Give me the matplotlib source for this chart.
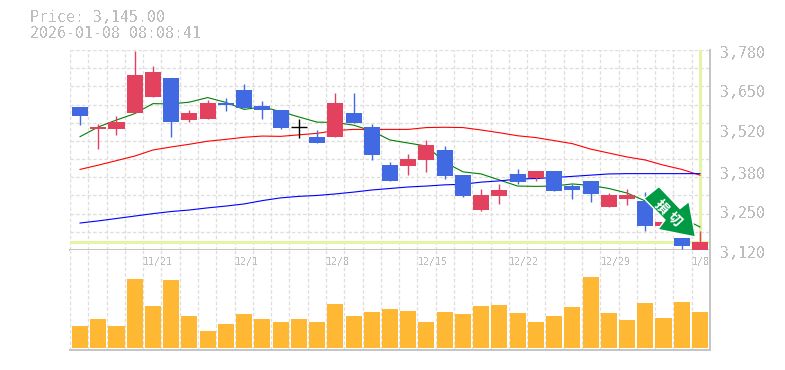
import matplotlib
matplotlib.use("Agg")
import matplotlib.pyplot as plt
from matplotlib.patches import Polygon

W, H = 785, 370

#candles, oldest first
opens = [3592,3519,3519,3572,3625,3688,3549,3552,3605,3648,3595,3582,3525,3493,3493,3572,3526,3400,3397,3417,
         3450,3367,3252,3298,3371,3358,3381,3331,3348,3262,3288,3282,3199,3160,3117]
closes = [3562,3526,3542,3697,3707,3542,3572,3605,3598,3589,3582,3523,3525,3473,3605,3539,3433,3348,3420,3466,
          3364,3298,3301,3318,3344,3381,3315,3318,3305,3301,3301,3199,3212,3133,3145]
highs = [3592,3536,3562,3777,3727,3688,3582,3615,3622,3668,3612,3582,3552,3516,3638,3638,3536,3410,3437,3483,
         3463,3367,3321,3338,3387,3381,3381,3338,3348,3308,3321,3311,3212,3160,3183]
lows = [3532,3453,3499,3572,3625,3493,3542,3552,3579,3589,3552,3519,3490,3473,3493,3539,3417,3348,3367,3377,
        3354,3295,3249,3272,3338,3348,3315,3288,3278,3262,3268,3183,3199,3123,3117]
volumes = [22,29,22,69,42,68,32,17,24,34,29,26,29,26,44,32,36,39,
           37,26,36,34,42,43,35,26,32,41,71,35,28,45,30,46,36]

ma_short = [3494,3526,3549,3570,3603,3602,3608,3623,3607,3584,3592,3577,3559,3542,3541,3532,3513,3483,3473,3463,
            3410,3378,3371,3351,3331,3330,3331,3338,3333,3323,3308,3282,3252,3226,3196]
ma_mid = [3386,3400,3415,3430,3450,3460,3469,3479,3485,3492,3496,3495,3500,3505,3514,3518,3518,3518,3518,3524,
          3525,3524,3516,3507,3497,3491,3481,3471,3453,3440,3427,3417,3400,3386,3367]
ma_long = [3209,3216,3224,3232,3240,3247,3252,3259,3265,3272,3283,3292,3297,3300,3305,3311,3318,3323,3328,3331,
           3335,3337,3344,3348,3354,3356,3359,3363,3367,3371,3372,3372,3372,3372,3372]

price_ticks = [3780,3650,3520,3380,3250,3120]
date_labels = ["11/21","12/1","12/8","12/15","12/22","12/29","1/8"]
date_slots = [4,9,14,19,24,29,34]
last_price = 3145
title_lines = ["Price: 3,145.00","2026-01-08 08:08:41"]

UP = "#e3425f"
DOWN = "#4169e1"
GRID = "#dedede"
TXT = "#bdbdbd"
MARK = "#e3f5a5"
MONO = "DejaVu Sans Mono"

plt.rcParams["text.antialiased"] = False

def box(top, bottom):
   return [70/W, 1-bottom/H, 640/W, (bottom-top)/H]

fig = plt.figure(figsize=(W/100, H/100), dpi=100)
ax = fig.add_axes(box(50, 250))
axv = fig.add_axes(box(250, 350))

x = list(range(len(closes)))
xlim = (-0.55, 34.55)
slots = [xlim[0] + i*(xlim[1]-xlim[0])/35 for i in range(35)]
dash = (0, (2.6, 1.7))

for a in (ax, axv):
   a.set_xlim(xlim)
   a.set_xticks(slots)
   a.tick_params(length=0, labelbottom=False, labelleft=False, labelright=False)
   a.grid(axis="x", color=GRID, lw=0.95, linestyle=dash)
   a.set_axisbelow(True)
   for s in a.spines.values():
      s.set_visible(False)
   a.spines["right"].set_visible(True)
   a.spines["bottom"].set_visible(True)
   a.spines["right"].set_color("#c4c4c4")
   a.spines["bottom"].set_color("#c4c4c4")
   a.spines["right"].set_linewidth(1.4)
   a.spines["bottom"].set_linewidth(1.4)

ax.set_ylim(3120, 3780)
ax.set_yticks(list(range(3180, 3781, 60)))
ax.grid(axis="y", color=GRID, lw=0.95, linestyle=dash)

ax.axhline(last_price, color=MARK, lw=2.2, zorder=1)
ax.axvline(x[-1], color=MARK, lw=2.2, zorder=1)

ax.plot(x, ma_short, color="#008000", lw=0.8, zorder=2)
ax.plot(x, ma_mid, color="#ff0000", lw=0.8, zorder=2)
ax.plot(x, ma_long, color="#0000ff", lw=0.8, zorder=2)

for i, (o, c, hi, lo) in enumerate(zip(opens, closes, highs, lows)):
   if c == o:
      col = "black"
   elif c > o:
      col = UP
   else:
      col = DOWN
   ax.vlines(i, lo, hi, color=col, lw=1.0, zorder=3, clip_on=False)
   if c == o:
      ax.hlines(c, i-0.44, i+0.44, color=col, lw=1.0, zorder=3)
   else:
      ax.bar(i, abs(c-o), bottom=min(o, c), width=0.878, color=col, lw=0, zorder=3, clip_on=False)

axv.bar(x, volumes, width=0.878, color="#ffb833", lw=0, zorder=3)
axv.set_ylim(-2, 98)
axv.set_yticks([])

for val in price_ticks:
   ax.annotate(f"{val:,}", xy=(1, val), xycoords=ax.get_yaxis_transform(),
               xytext=(7.2, -2.4), textcoords="offset points",
               ha="left", va="center", color=TXT, fontsize=10.7, family=MONO)

for lab, slot in zip(date_labels, date_slots):
   axv.annotate(lab, xy=(slots[slot], 1), xycoords=axv.get_xaxis_transform(),
                xytext=(0, -8.7), textcoords="offset points",
                ha="left", va="center", color=TXT, fontsize=7.1, family=MONO)

fig.text(30/W, 1-18/H, title_lines[0], color=TXT, fontsize=10.7, family=MONO, va="center")
fig.text(30/W, 1-33/H, title_lines[1], color=TXT, fontsize=10.7, family=MONO, va="center")

#badge on top of the last candles, given in picture pixels
badge = [(659,186.5),(680,208.5),(689,201.5),(695.5,237),(658,229.5),(665,220),(644,198.5)]
fig.add_artist(Polygon([(px/W, 1-py/H) for px, py in badge], closed=True, transform=fig.transFigure,
                       facecolor="#009944", edgecolor="white", lw=1.0, zorder=10))
fig.text(661/W, 1-207/H, "損", color="white", fontsize=10, rotation=-45, rotation_mode="anchor", fontweight="bold",
         family=["Noto Sans CJK JP", "DejaVu Sans"], ha="center", va="center", zorder=11, antialiased=True)
fig.text(674/W, 1-219.5/H, "切", color="white", fontsize=10, rotation=-45, rotation_mode="anchor", fontweight="bold",
         family=["Noto Sans CJK JP", "DejaVu Sans"], ha="center", va="center", zorder=11, antialiased=True)

fig.savefig("out.png", dpi=100)
